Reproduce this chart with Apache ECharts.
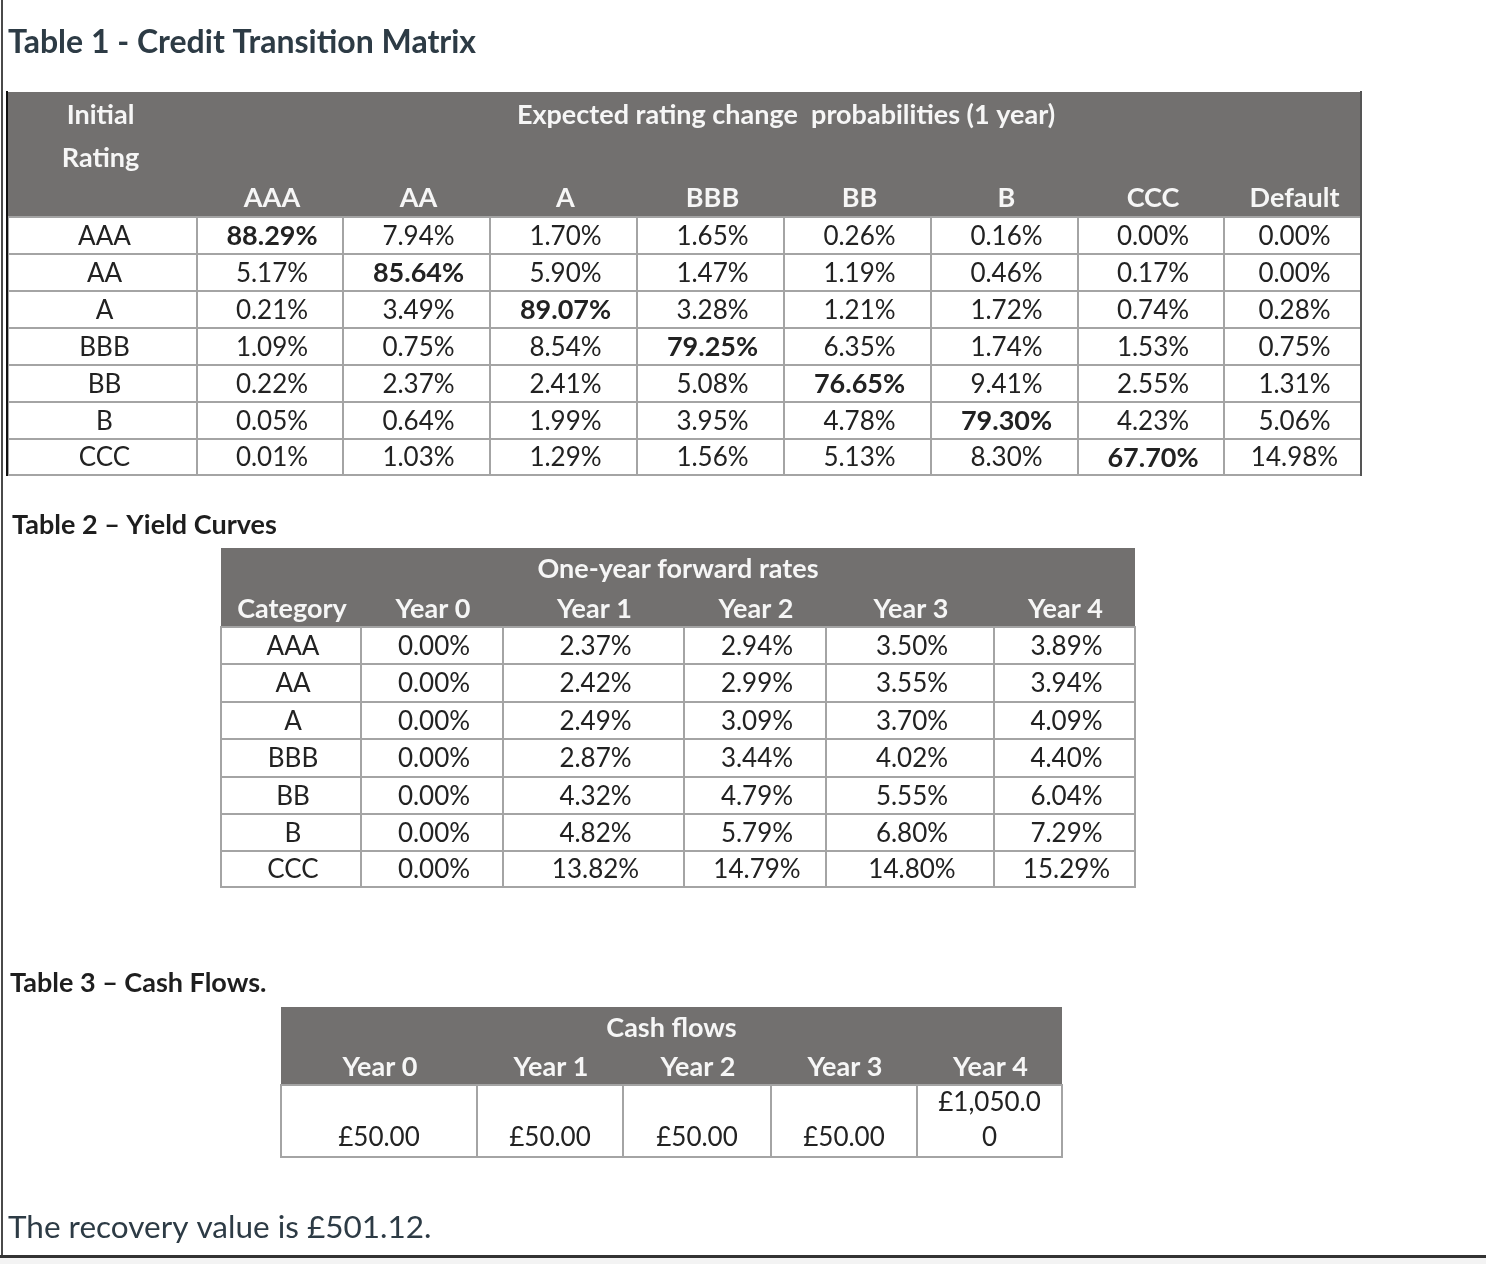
<!DOCTYPE html>
<html><head><meta charset="utf-8">
<script src="https://cdn.jsdelivr.net/npm/echarts@6/dist/echarts.min.js"></script>
<style>html,body{margin:0;padding:0;background:#fff}#c{width:1486px;height:1264px}</style>
</head><body><div id="c"></div><script>
// ---------------- DATA ----------------
const ratings = ['AAA', 'AA', 'A', 'BBB', 'BB', 'B', 'CCC'];
const transitionCols = ['AAA', 'AA', 'A', 'BBB', 'BB', 'B', 'CCC', 'Default'];
const transitionPct = [
  [88.29, 7.94, 1.70, 1.65, 0.26, 0.16, 0.00, 0.00],
  [5.17, 85.64, 5.90, 1.47, 1.19, 0.46, 0.17, 0.00],
  [0.21, 3.49, 89.07, 3.28, 1.21, 1.72, 0.74, 0.28],
  [1.09, 0.75, 8.54, 79.25, 6.35, 1.74, 1.53, 0.75],
  [0.22, 2.37, 2.41, 5.08, 76.65, 9.41, 2.55, 1.31],
  [0.05, 0.64, 1.99, 3.95, 4.78, 79.30, 4.23, 5.06],
  [0.01, 1.03, 1.29, 1.56, 5.13, 8.30, 67.70, 14.98]
];
const yieldFirstCol = 'Category';
const yieldYears = ['Year 0', 'Year 1', 'Year 2', 'Year 3', 'Year 4'];
const forwardRates = [
  [0.00, 2.37, 2.94, 3.50, 3.89],
  [0.00, 2.42, 2.99, 3.55, 3.94],
  [0.00, 2.49, 3.09, 3.70, 4.09],
  [0.00, 2.87, 3.44, 4.02, 4.40],
  [0.00, 4.32, 4.79, 5.55, 6.04],
  [0.00, 4.82, 5.79, 6.80, 7.29],
  [0.00, 13.82, 14.79, 14.80, 15.29]
];
const cashYears = ['Year 0', 'Year 1', 'Year 2', 'Year 3', 'Year 4'];
const cashFlows = [50, 50, 50, 50, 1050];
const recoveryValue = 501.12;

const t1Title = 'Table 1 - Credit Transition Matrix';
const t1Group = 'Expected rating change  probabilities (1 year)';
const t1Corner = ['Initial', 'Rating'];
const t2Title = 'Table 2 \u2013 Yield Curves';
const t2Group = 'One-year forward rates';
const t3Title = 'Table 3 \u2013 Cash Flows.';
const t3Group = 'Cash flows';

// ---------------- LAYOUT ----------------
const L1 = {cols: [8, 197, 343, 490, 637, 784, 931, 1078, 1224, 1361], head: [92, 137, 178, 217], rows: [217, 254, 291, 328, 365, 402, 439, 475]};
const L2 = {cols: [221, 361, 503, 684, 826, 994, 1135], head: [548, 589, 627], rows: [627, 664, 702, 739, 777, 814, 851, 887]};
const L3 = {cols: [281, 477, 623, 771, 917, 1062], head: [1007, 1047, 1085], rows: [1085, 1157]};

const pct = v => v.toFixed(2) + '%';
const gbp = v => '\u00a3' + v.toLocaleString('en-GB', {minimumFractionDigits: 2, maximumFractionDigits: 2});

const cells = [];
function headBox(L) {
  cells.push({kind: 'head', x0: L.cols[0], x1: L.cols[L.cols.length - 1], y0: L.head[0], y1: L.head[L.head.length - 1]});
}
function label(L, c0, c1, r, text, dx) {
  cells.push({kind: 'label', x0: L.cols[c0], x1: L.cols[c1], y0: L.head[r], y1: L.head[r + 1], text, dx: dx || 0});
}
function body(L, c, r, text, bold, bottom) {
  cells.push({kind: 'body', x0: L.cols[c], x1: L.cols[c + 1], y0: L.rows[r], y1: L.rows[r + 1], text, bold, bottom});
}

// Table 1
headBox(L1);
ratings.forEach((rt, r) => {
  body(L1, 0, r, rt, false);
  transitionPct[r].forEach((v, c) => body(L1, c + 1, r, pct(v), r === c));
});
label(L1, 0, 1, 0, t1Corner[0], -2);
label(L1, 0, 1, 1, t1Corner[1], -2);
label(L1, 1, 9, 0, t1Group, 7);
transitionCols.forEach((t, c) => label(L1, c + 1, c + 2, 2, t, 2));

// Table 2
headBox(L2);
ratings.forEach((rt, r) => {
  body(L2, 0, r, rt, false);
  forwardRates[r].forEach((v, c) => body(L2, c + 1, r, pct(v), false));
});
label(L2, 0, 6, 0, t2Group);
[yieldFirstCol].concat(yieldYears).forEach((t, c) => label(L2, c, c + 1, 1, t, 1));

// Table 3
headBox(L3);
cashFlows.forEach((v, c) => body(L3, c, 0, gbp(v), false, true));
label(L3, 0, 5, 0, t3Group);
cashYears.forEach((t, c) => label(L3, c, c + 1, 1, t, 1));

const FONT = 'Lato';
function renderItem(params, api) {
  const d = cells[params.dataIndex];
  const p0 = api.coord([d.x0, d.y0]);
  const p1 = api.coord([d.x1, d.y1]);
  const x = p0[0], y = p0[1], w = p1[0] - p0[0], h = p1[1] - p0[1];
  if (d.kind === 'head') {
    return {type: 'rect', shape: {x, y, width: w, height: h}, style: {fill: '#72706f'}};
  }
  if (d.kind === 'label') {
    return {type: 'text', x: x + w / 2 + d.dx, y: y + h / 2 + 1,
      style: {text: d.text, fill: '#f6f6f6', font: 'bold 27px ' + FONT, textAlign: 'center', textVerticalAlign: 'middle'}};
  }
  const children = [
    {type: 'rect', shape: {x, y, width: w, height: h}, style: {fill: '#ffffff', stroke: '#a4a4a4', lineWidth: 2}}
  ];
  const font = (d.bold ? 'bold 27px ' : '26px ') + FONT;
  if (d.bottom) {
    children.push({type: 'text', x: x + w / 2, y: y + h - 2,
      style: {text: d.text, fill: '#222', font,
        align: 'center', verticalAlign: 'bottom', width: w - 29, overflow: 'breakAll', lineHeight: 35}});
  } else {
    children.push({type: 'text', x: x + w / 2 + 2, y: y + h / 2 + 1,
      style: {text: d.text, fill: '#222', font, align: 'center', verticalAlign: 'middle'}});
  }
  return {type: 'group', children};
}

const chart = echarts.init(document.getElementById('c'), null, {renderer: 'canvas'});
chart.setOption({
  animation: false,
  backgroundColor: '#ffffff',
  title: [
    {text: t1Title, left: 8, top: 27, padding: 0, textStyle: {fontFamily: FONT, fontWeight: 'bold', fontSize: 32, color: '#2d3b45'}},
    {text: t2Title, left: 12, top: 512, padding: 0, textStyle: {fontFamily: FONT, fontWeight: 'bold', fontSize: 27, color: '#1e1e1e'}},
    {text: t3Title, left: 10, top: 970, padding: 0, textStyle: {fontFamily: FONT, fontWeight: 'bold', fontSize: 27, color: '#1e1e1e'}},
    {text: 'The recovery value is ' + gbp(recoveryValue) + '.', left: 8, top: 1212, padding: 0, textStyle: {fontFamily: FONT, fontWeight: 'normal', fontSize: 31.5, color: '#2d3b45'}}
  ],
  grid: {left: 0, right: 0, top: 0, bottom: 0},
  xAxis: {type: 'value', min: 0, max: 1486, show: false},
  yAxis: {type: 'value', min: 0, max: 1264, inverse: true, show: false},
  series: [{
    type: 'custom',
    renderItem,
    clip: false,
    silent: true,
    data: cells.map((c, i) => [i, 0])
  }],
  graphic: [
    {type: 'line', shape: {x1: 2, y1: 0, x2: 2, y2: 1257}, style: {stroke: '#4a4a4a', lineWidth: 2}},
    {type: 'line', shape: {x1: 7, y1: 91, x2: 7, y2: 476}, style: {stroke: '#111', lineWidth: 2}, z: 10},
    {type: 'line', shape: {x1: 1361, y1: 91, x2: 1361, y2: 476}, style: {stroke: '#555', lineWidth: 2}, z: 10},
    {type: 'line', shape: {x1: 0, y1: 1256.5, x2: 1486, y2: 1256.5}, style: {stroke: '#333', lineWidth: 3}},
    {type: 'rect', shape: {x: 0, y: 1258, width: 1486, height: 6}, style: {fill: '#f3f3f3'}}
  ]
});
</script></body></html>
